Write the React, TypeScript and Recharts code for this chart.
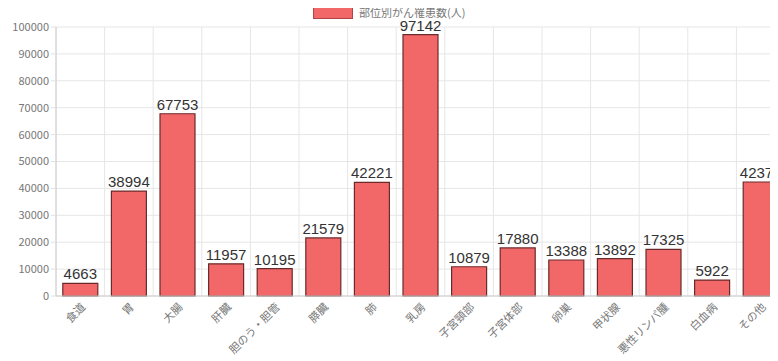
import React from "react";
import { BarChart, Bar, XAxis, YAxis, CartesianGrid, LabelList } from "recharts";

const categories = ["食道", "胃", "大腸", "肝臓", "胆のう・胆管", "膵臓", "肺", "乳房", "子宮頸部", "子宮体部", "卵巣", "甲状腺", "悪性リンパ腫", "白血病", "その他"];
const counts = [4663, 38994, 67753, 11957, 10195, 21579, 42221, 97142, 10879, 17880, 13388, 13892, 17325, 5922, 42377];
const yTicks = [0, 10000, 20000, 30000, 40000, 50000, 60000, 70000, 80000, 90000, 100000];
const seriesName = "部位別がん罹患数(人)";

const data = categories.map((c, i) => ({ name: c, value: counts[i] }));

const FONT = "'Noto Sans CJK JP', 'Noto Sans', sans-serif";

const XTick = (props: any) => {
  const { x, y, payload } = props;
  return (
    <g transform={`translate(${x + 3},${y + 1})`}>
      <text
        x={0}
        y={0}
        dy={4}
        textAnchor="end"
        transform="rotate(-45)"
        fontSize={11}
        fill="#777"
        fontFamily={FONT}
      >
        {payload.value}
      </text>
    </g>
  );
};

export default function App() {
  const n = categories.length;
  return (
    <div style={{ position: "relative", width: 770, height: 353, overflow: "hidden" }}>
      <div
        style={{
          position: "absolute",
          top: -4,
          left: 305,
          display: "flex",
          alignItems: "center",
          height: 16,
        }}
      >
        <div style={{ width: 38, height: 11, background: "#f26868", border: "1px solid #b04545", marginRight: 6 }} />
        <span style={{ fontSize: 11, color: "#777", fontFamily: FONT }}>{seriesName}</span>
      </div>
      <BarChart
        width={777}
        height={353}
        data={data}
        margin={{ top: 19, right: 0, bottom: 0, left: 0 }}
        barCategoryGap="14%"
      >
        <CartesianGrid
          stroke="#e6e6e6"
          verticalCoordinatesGenerator={({ offset }: any) =>
            Array.from({ length: n + 1 }, (_, i) => offset.left + (i * offset.width) / n)
          }
        />
        <XAxis
          dataKey="name"
          interval={0}
          tick={<XTick />}
          tickLine={false}
          axisLine={{ stroke: "#ccc" }}
          height={65}
        />
        <YAxis
          domain={[0, 100000]}
          ticks={yTicks}
          interval={0}
          width={48}
          tick={{ fontSize: 11, fill: "#777", fontFamily: FONT }}
          tickLine={{ stroke: "#e0e0e0" }}
          tickSize={5}
          axisLine={{ stroke: "#ccc" }}
        />
        <Bar dataKey="value" fill="#f26868" stroke="#6b2a2a" strokeWidth={1.2} isAnimationActive={false}>
          <LabelList dataKey="value" position="top" fontSize={15} fill="#333" fontFamily="'Liberation Sans', Arial, sans-serif" offset={4} />
        </Bar>
      </BarChart>
    </div>
  );
}
